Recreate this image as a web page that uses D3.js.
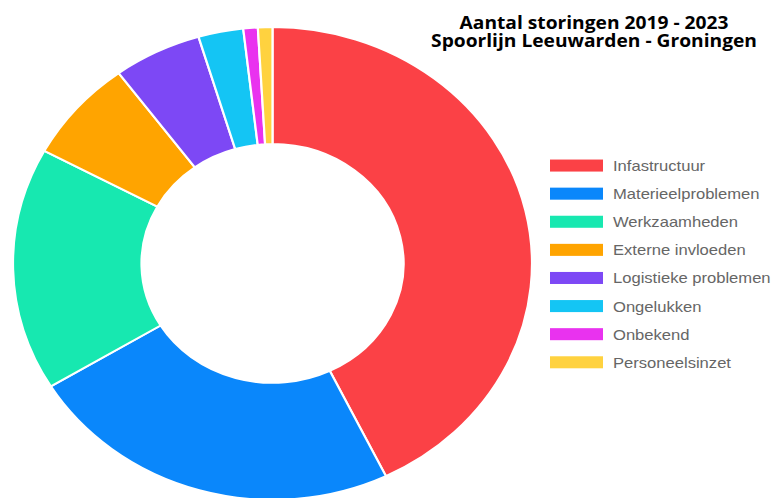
<!DOCTYPE html>
<html>
<head>
<meta charset="utf-8">
<script src="https://cdn.jsdelivr.net/npm/d3@7"></script>
<style>
  body { margin: 0; background: #fff; }
</style>
</head>
<body>
<div id="chart-area"></div>
<script>
var categories = ['Infastructuur', 'Materieelproblemen', 'Werkzaamheden', 'Externe invloeden',
                  'Logistieke problemen', 'Ongelukken', 'Onbekend', 'Personeelsinzet'];
var values = [428, 235, 166, 70, 55, 28, 9, 9];
var colors = ['#fb4146', '#0a87fb', '#17e8b0', '#ffa400', '#7d48f5', '#14c5f4', '#e932ef', '#ffd23f'];
var titleLines = ['Aantal storingen 2019 - 2023', 'Spoorlijn Leeuwarden - Groningen'];

var width = 774, height = 498;
// the original picture is squashed vertically
var squash = 0.911;

var svg = d3.select('#chart-area').append('svg')
  .attr('width', width)
  .attr('height', height);

var root = svg.append('g').attr('transform', `scale(1, ${squash})`);

var data = categories.map((c, i) => ({ name: c, value: values[i], color: colors[i] }));

var cx = 272.5, cy = 289.2, outerR = 259.5, innerR = 131;

var pie = d3.pie().value(d => d.value).sort(null);
var arc = d3.arc().innerRadius(innerR).outerRadius(outerR);

root.append('g')
  .attr('transform', `translate(${cx}, ${cy})`)
  .selectAll('path')
  .data(pie(data))
  .enter()
  .append('path')
    .attr('d', arc)
    .attr('fill', d => d.data.color)
    .attr('stroke', '#fff')
    .attr('stroke-width', 2.2);

// title
var title = root.append('g').attr('transform', 'translate(594, 0)');
title.selectAll('text')
  .data(titleLines)
  .enter()
  .append('text')
    .attr('x', 0)
    .attr('y', (d, i) => 32.2 + i * 19)
    .attr('text-anchor', 'middle')
    .attr('font-family', '"Open Sans", sans-serif')
    .attr('font-weight', 'bold')
    .attr('font-size', '19.2px')
    .attr('fill', '#000')
    .text(d => d);

// legend
var legendY = d3.scaleBand().domain(categories).range([166.3, 166.3 + 8 * 30.85]);

var legend = root.append('g').attr('class', 'legend');
var rows = legend.selectAll('g')
  .data(data)
  .enter()
  .append('g')
    .attr('transform', d => `translate(550, ${legendY(d.name)})`);

rows.append('rect')
  .attr('x', 0)
  .attr('y', (legendY.bandwidth() - 13.2) / 2)
  .attr('width', 53)
  .attr('height', 13.2)
  .attr('fill', d => d.color);

rows.append('text')
  .attr('x', 63)
  .attr('y', legendY.bandwidth() / 2)
  .attr('dy', '0.36em')
  .attr('font-family', '"Liberation Sans", Arial, sans-serif')
  .attr('font-size', '16.6px')
  .attr('fill', '#666')
  .text(d => d.name);
</script>
</body>
</html>
